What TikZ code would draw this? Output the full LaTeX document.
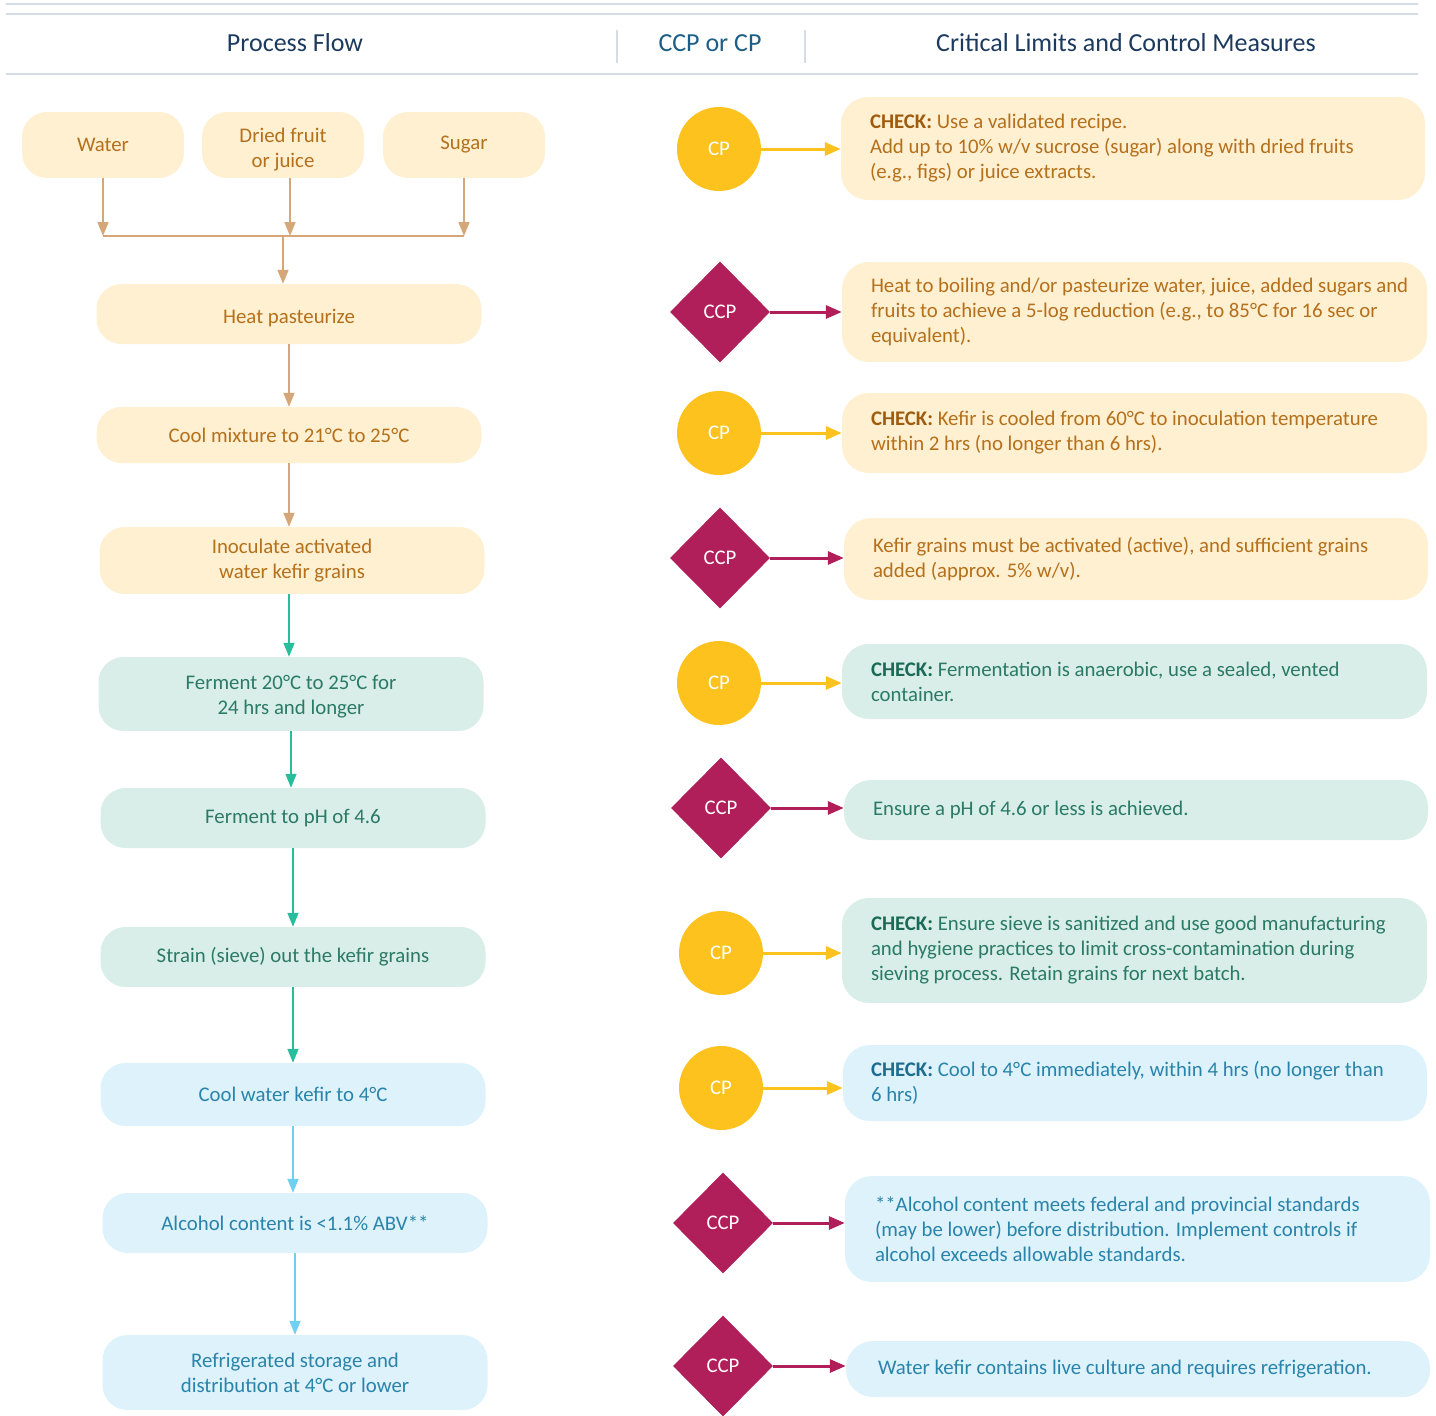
\documentclass[tikz,border=0pt]{standalone}
\usepackage{fontspec}
\setmainfont{Carlito}
\usetikzlibrary{arrows.meta,shapes.geometric}

\definecolor{rulegrey}{HTML}{D5DCE5}
\definecolor{headnavy}{HTML}{1C3A5E}
\definecolor{headblue}{HTML}{1D5E86}
\definecolor{creamfill}{HTML}{FEF0D1}
\definecolor{creamtext}{HTML}{B5701C}
\definecolor{creambold}{HTML}{9E5C10}
\definecolor{mintfill}{HTML}{D9EEE8}
\definecolor{minttext}{HTML}{2A7A66}
\definecolor{mintbold}{HTML}{1B6A55}
\definecolor{skyfill}{HTML}{DDF2FB}
\definecolor{skytext}{HTML}{2A84AA}
\definecolor{skybold}{HTML}{1C6D90}
\definecolor{tanarrow}{HTML}{D5A677}
\definecolor{tealarrow}{HTML}{29BD9B}
\definecolor{skyarrow}{HTML}{6FD0F2}
\definecolor{cpyellow}{HTML}{FDC21E}
\definecolor{ccpred}{HTML}{B01F59}

\begin{document}
\begin{tikzpicture}[x=1pt,y=-1pt,
	every node/.style={font=\fontsize{20.8}{25}\selectfont},
	headtext/.style={font=\fontsize{26}{30}\selectfont, text=headnavy},
	stepbox/.style={rounded corners=25pt, inner sep=0pt, align=center, minimum width=385pt},
	cream/.style={fill=creamfill, text=creamtext},
	mint/.style={fill=mintfill, text=minttext},
	sky/.style={fill=skyfill, text=skytext},
	limitbox/.style={rounded corners=27pt, inner sep=0pt, minimum width=585pt},
	limittext/.style={anchor=west, align=left, inner sep=0pt},
	cpmark/.style={circle, fill=cpyellow, text=white, minimum size=84pt, inner sep=0pt},
	ccpmark/.style={diamond, fill=ccpred, text=white, minimum width=100pt, minimum height=101pt, inner sep=0pt},
	flowarrow/.style={-{Triangle[width=11pt,length=14pt]}, line width=1.6pt},
	markarrow/.style={-{Triangle[width=13pt,length=16pt]}, line width=3pt}]

	\useasboundingbox (0,0) rectangle (1436,1416);

	% header
	\draw[rulegrey, line width=1.5pt] (6,4) -- (1418,4);
	\draw[rulegrey, line width=1.5pt] (6,14) -- (1418,14);
	\draw[rulegrey, line width=1.5pt] (6,74) -- (1418,74);
	\draw[rulegrey, line width=2pt] (617,30) -- (617,63);
	\draw[rulegrey, line width=2pt] (805,30) -- (805,63);
	\node (hflow) at (295,43) [headtext] {Process Flow};
	\node (hccp) at (710,43) [headtext, text=headblue] {CCP or CP};
	\node (hlim) at (1126,43) [headtext] {Critical Limits and Control Measures};

	% process flow
	\node (water) at (103,145) [stepbox, cream, minimum width=162pt, minimum height=66pt] {Water};
	\node (fruit) at (283,145) [stepbox, cream, minimum width=162pt, minimum height=66pt] {\rule{0pt}{24pt}Dried fruit\\or juice};
	\node (sugar) at (464,145) [stepbox, cream, minimum width=162pt, minimum height=66pt] {Sugar};
	\coordinate (merge) at (283,236);
	\node (heat) at (289,314) [stepbox, cream, minimum height=60pt] {\rule{0pt}{22pt}Heat pasteurize};
	\node (cool) at (289,435) [stepbox, cream, minimum height=56pt] {Cool mixture to 21°C to 25°C};
	\node (inoc) at (292,560.5) [stepbox, cream, minimum height=67pt] {Inoculate activated\\water kefir grains};
	\node (ferm) at (291,694) [stepbox, mint, minimum height=74pt] {\rule{0pt}{20pt}Ferment 20°C to 25°C for\\24 hrs and longer};
	\node (ph) at (293,818) [stepbox, mint, minimum height=60pt] {Ferment to pH of 4.6};
	\node (strain) at (293,957) [stepbox, mint, minimum height=60pt] {Strain (sieve) out the kefir grains};
	\node (chill) at (293,1094.5) [stepbox, sky, minimum height=63pt] {Cool water kefir to 4°C};
	\node (alc) at (295,1223) [stepbox, sky, minimum height=60pt] {Alcohol content is <1.1\% ABV**};
	\node (store) at (295,1372.5) [stepbox, sky, minimum height=75pt] {Refrigerated storage and\\distribution at 4°C or lower};

	\draw[flowarrow, tanarrow] (water.south) -- (water.south |- merge);
	\draw[flowarrow, tanarrow] ([xshift=7pt]fruit.south) -- ([xshift=7pt]fruit.south |- merge);
	\draw[flowarrow, tanarrow] (sugar.south) -- (sugar.south |- merge);
	\draw[tanarrow, line width=1.6pt] (water.south |- merge) -- (sugar.south |- merge);
	\draw[flowarrow, tanarrow] (merge) -- (merge |- heat.north);
	\draw[flowarrow, tanarrow] (heat.south) -- (heat.south |- cool.north);
	\draw[flowarrow, tanarrow] (cool.south) -- (cool.south |- inoc.north);
	\draw[flowarrow, tealarrow] (cool.south |- inoc.south) -- (cool.south |- ferm.north);
	\draw[flowarrow, tealarrow] (ferm.south) -- (ferm.south |- ph.north);
	\draw[flowarrow, tealarrow] (ph.south) -- (ph.south |- strain.north);
	\draw[flowarrow, tealarrow] (strain.south) -- (strain.south |- chill.north);
	\draw[flowarrow, skyarrow] (chill.south) -- (chill.south |- alc.north);
	\draw[flowarrow, skyarrow] (alc.south) -- (alc.south |- store.north);

	% CCP or CP
	\node (m1) at (719,149) [cpmark] {CP};
	\node (m2) at (720,312) [ccpmark] {CCP};
	\node (m3) at (719,433) [cpmark] {CP};
	\node (m4) at (720,558) [ccpmark] {CCP};
	\node (m5) at (719,683) [cpmark] {CP};
	\node (m6) at (721,808) [ccpmark] {CCP};
	\node (m7) at (721,953) [cpmark] {CP};
	\node (m8) at (721,1088) [cpmark] {CP};
	\node (m9) at (723,1223) [ccpmark] {CCP};
	\node (m10) at (723,1366) [ccpmark] {CCP};

	% critical limits
	\node (lim1) at (1133,148.5) [limitbox, cream, minimum width=584pt, minimum height=103pt] {};
	\node (lim2) at (1134.5,312) [limitbox, cream, minimum height=100pt] {};
	\node (lim3) at (1134.5,433) [limitbox, cream, minimum height=80pt] {};
	\node (lim4) at (1136,559) [limitbox, cream, minimum width=584pt, minimum height=82pt] {};
	\node (lim5) at (1134.5,681.5) [limitbox, mint, minimum height=75pt] {};
	\node (lim6) at (1136,810) [limitbox, mint, minimum width=584pt, minimum height=60pt] {};
	\node (lim7) at (1134.5,950.5) [limitbox, mint, minimum height=105pt] {};
	\node (lim8) at (1135,1083) [limitbox, sky, minimum width=584pt, minimum height=76pt] {};
	\node (lim9) at (1137.5,1229) [limitbox, sky, minimum height=106pt] {};
	\node (lim10) at (1138,1369) [limitbox, sky, minimum width=584pt, minimum height=56pt] {};

	\node (txt1) at ([xshift=29pt]lim1.west) [limittext, text=creamtext] {{\bfseries\color{creambold}CHECK:} Use a validated recipe.\\Add up to 10\% w/v sucrose (sugar) along with dried fruits\\(e.g., figs) or juice extracts.};
	\node (txt2) at ([xshift=29pt]lim2.west) [limittext, text=creamtext] {Heat to boiling and/or pasteurize water, juice, added sugars and\\fruits to achieve a 5-log reduction (e.g., to 85°C for 16 sec or\\equivalent).};
	\node (txt3) at ([xshift=29pt]lim3.west) [limittext, text=creamtext] {{\bfseries\color{creambold}CHECK:} Kefir is cooled from 60°C to inoculation temperature\\within 2 hrs (no longer than 6 hrs).};
	\node (txt4) at ([xshift=29pt]lim4.west) [limittext, text=creamtext] {Kefir grains must be activated (active), and sufficient grains\\added (approx. 5\% w/v).};
	\node (txt5) at ([xshift=29pt]lim5.west) [limittext, text=minttext] {{\bfseries\color{mintbold}CHECK:} Fermentation is anaerobic, use a sealed, vented\\container.};
	\node (txt6) at ([xshift=29pt]lim6.west) [limittext, text=minttext] {Ensure a pH of 4.6 or less is achieved.};
	\node (txt7) at ([xshift=29pt]lim7.west) [limittext, text=minttext] {{\bfseries\color{mintbold}CHECK:} Ensure sieve is sanitized and use good manufacturing\\and hygiene practices to limit cross-contamination during\\sieving process. Retain grains for next batch.};
	\node (txt8) at ([xshift=28pt]lim8.west) [limittext, text=skytext] {{\bfseries\color{skybold}CHECK:} Cool to 4°C immediately, within 4 hrs (no longer than\\6 hrs)};
	\node (txt9) at ([xshift=30pt]lim9.west) [limittext, text=skytext] {**Alcohol content meets federal and provincial standards\\(may be lower) before distribution. Implement controls if\\alcohol exceeds allowable standards.};
	\node (txt10) at ([xshift=32pt]lim10.west) [limittext, text=skytext] {Water kefir contains live culture and requires refrigeration.};

	\foreach \i in {1,3,5,7,8}
		\draw[markarrow, cpyellow] (m\i.east) -- (m\i.east -| lim\i.west);
	\foreach \i in {2,4,6,9,10}
		\draw[markarrow, ccpred] (m\i.east) -- (m\i.east -| lim\i.west);
\end{tikzpicture}
\end{document}
